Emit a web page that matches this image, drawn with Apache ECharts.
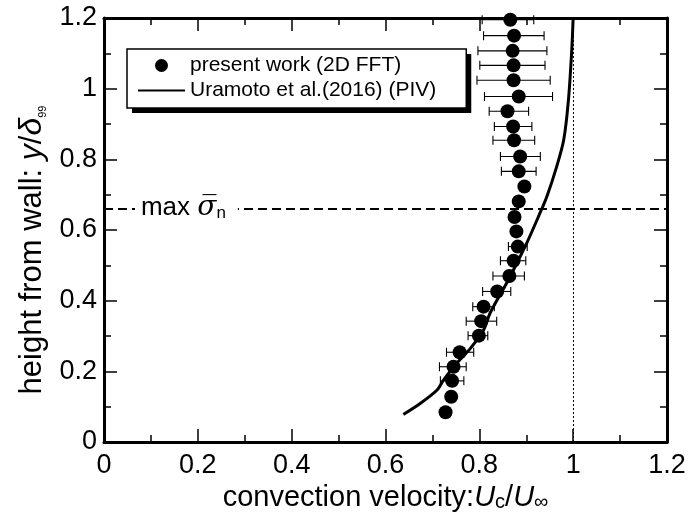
<!DOCTYPE html>
<html>
<head>
<meta charset="utf-8">
<script src="https://cdn.jsdelivr.net/npm/echarts@6/dist/echarts.min.js"></script>
<style>html,body{margin:0;padding:0;background:#fff;}#c{width:692px;height:520px;}</style>
</head>
<body>
<div id="c"></div>
<script>
// ---- data ----
const presentY = [1.195,1.150,1.107,1.066,1.024,0.978,0.936,0.893,0.854,0.808,0.766,0.723,0.681,0.637,0.596,0.553,0.513,0.470,0.426,0.383,0.342,0.301,0.254,0.213,0.173,0.128,0.084];
const presentX = [0.866,0.874,0.871,0.873,0.873,0.884,0.860,0.872,0.874,0.887,0.884,0.896,0.884,0.875,0.879,0.882,0.873,0.864,0.838,0.809,0.804,0.799,0.758,0.745,0.742,0.740,0.728];
const errLow  = [0.806,0.809,0.797,0.801,0.795,0.811,0.821,0.832,0.829,0.845,0.847,null,null,null,null,0.862,0.845,0.829,0.807,0.786,0.772,0.776,0.730,0.715,0.717,null,null];
const errHigh = [0.916,0.938,0.944,0.940,0.951,0.956,0.905,0.912,0.918,0.930,0.921,null,null,null,null,0.902,0.899,0.896,0.867,0.832,0.837,0.818,0.788,0.772,0.767,null,null];
const pivX = [0.638,0.674,0.710,0.724,0.752,0.781,0.809,0.823,0.862,0.901,0.926,0.944,0.965,0.980,0.990,0.997,1.000];
const pivY = [0.078,0.109,0.147,0.176,0.223,0.265,0.317,0.365,0.459,0.563,0.638,0.695,0.780,0.856,0.969,1.110,1.200];
const maxSigmaY = 0.662;
const freeStreamX = 1.0;
const xTicks = {min:0, max:1.2, interval:0.2};
const yTicks = {min:0, max:1.2, interval:0.2};
const labelStartX = 0.066;
const legendNames = ['present work (2D FFT)', 'Uramoto et al.(2016) (PIV)'];

const FONT = 'Liberation Sans, Arial, Helvetica, sans-serif';
const chart = echarts.init(document.getElementById('c'), null, {renderer:'canvas'});

function axisCommon(showLabel, extra){
  return Object.assign({
    type:'value',
    min: xTicks.min, max: xTicks.max, interval: xTicks.interval,
    axisLine:{show:true, onZero:false, lineStyle:{color:'#000', width:3}},
    axisTick:{show:true, inside:true, length:13, lineStyle:{color:'#000', width:1.5}},
    minorTick:{show:true, splitNumber:2, length:7, lineStyle:{color:'#000', width:1.5}},
    splitLine:{show:false},
    axisLabel:{show:showLabel, color:'#000', fontSize:27, fontFamily:FONT}
  }, extra);
}

const scatterData = presentX.map((x,i)=>[x, presentY[i]]);
const errData = [];
presentY.forEach((y,i)=>{ if(errLow[i]!=null) errData.push([y, errLow[i], errHigh[i]]); });
const pivData = pivX.map((x,i)=>[x, pivY[i]]);

const legendBase = {
  orient:'vertical', left:127, top:49,
  itemWidth:47, itemHeight:13, itemGap:4,
  padding:[6,30,7,10],
  textStyle:{color:'#000', fontSize:21, fontFamily:FONT, lineHeight:21},
  selectedMode:false
};

const option = {
  animation:false,
  backgroundColor:'#fff',
  grid:{left:104, right:25, top:18, bottom:78, containLabel:false},
  legend:[
    // shadow layer: white box with solid black offset shadow, invisible content
    Object.assign({}, legendBase, {
      z:3,
      data:[{name:legendNames[0], itemStyle:{opacity:0}},
            {name:legendNames[1], itemStyle:{opacity:0}, lineStyle:{opacity:0}}],
      backgroundColor:'#fff', borderWidth:0,
      shadowColor:'#000', shadowBlur:0, shadowOffsetX:5, shadowOffsetY:5,
      textStyle:{color:'rgba(0,0,0,0)', fontSize:21, fontFamily:FONT, lineHeight:21}
    }),
    // visible layer: bordered box with items
    Object.assign({}, legendBase, {
      z:4,
      data:[{name:legendNames[0]},
            {name:legendNames[1], itemStyle:{opacity:0}}],
      backgroundColor:'rgba(0,0,0,0)', borderColor:'#000', borderWidth:1.5
    })
  ],
  xAxis:[
    axisCommon(true, {position:'bottom',
      axisLabel:{show:true, color:'#000', fontSize:27, fontFamily:FONT, margin:10},
      name:'convection velocity:{i|U}{c|c}/{i|U}{c|∞}', nameLocation:'middle', nameGap:41,
      nameTextStyle:{color:'#000', fontSize:29, fontFamily:FONT,
        rich:{i:{fontStyle:'italic', fontSize:29, fontFamily:FONT, color:'#000'},
              c:{fontSize:20, fontFamily:FONT, color:'#000', verticalAlign:'bottom', padding:[7,0,0,0]}}}}),
    axisCommon(false, {position:'top'})
  ],
  yAxis:[
    axisCommon(true, {min:yTicks.min, max:yTicks.max, interval:yTicks.interval, position:'left',
      axisLabel:{show:true, color:'#000', fontSize:27, fontFamily:FONT, margin:7},
      name:'height from wall: {i|y}/{i|δ}{s|99}', nameLocation:'middle', nameGap:54,
      nameTextStyle:{color:'#000', fontSize:31, fontFamily:FONT, padding:[0,40,0,0],
        rich:{i:{fontStyle:'italic', fontSize:32, fontFamily:FONT, color:'#000'},
              s:{fontSize:11, fontFamily:FONT, color:'#000', verticalAlign:'bottom'}}}}),
    axisCommon(false, {min:yTicks.min, max:yTicks.max, interval:yTicks.interval, position:'right'})
  ],
  series:[
    {
      name:'guides', type:'line', data:[], silent:true, z:1,
      markLine:{silent:true, symbol:'none', animation:false,
        label:{show:false},
        data:[
          {yAxis:maxSigmaY, lineStyle:{type:[9,5], width:2, color:'#000'}},
          {xAxis:freeStreamX, lineStyle:{type:[2,2], width:1, color:'#000'}}
        ]}
    },
    {
      name:'errors', type:'custom', z:3, silent:true,
      data:errData, encode:{x:[1,2], y:0},
      renderItem:function(params, api){
        const y = api.value(0), lo = api.value(1), hi = api.value(2);
        const p1 = api.coord([lo,y]), p2 = api.coord([hi,y]);
        const h = 4.5, st = {stroke:'#000', lineWidth:1.1};
        return {type:'group', children:[
          {type:'line', shape:{x1:p1[0], y1:p1[1], x2:p2[0], y2:p2[1]}, style:st},
          {type:'line', shape:{x1:p1[0], y1:p1[1]-h, x2:p1[0], y2:p1[1]+h}, style:st},
          {type:'line', shape:{x1:p2[0], y1:p2[1]-h, x2:p2[0], y2:p2[1]+h}, style:st}
        ]};
      }
    },
    {
      name:legendNames[1], type:'line', data:pivData, smooth:0.3,
      symbol:'none', z:4, clip:true,
      lineStyle:{color:'#000', width:3}, itemStyle:{color:'#000'}
    },
    {
      name:legendNames[0], type:'scatter', data:scatterData, symbol:'circle',
      symbolSize:14, z:5, itemStyle:{color:'#000', opacity:1}
    },
    {
      name:'label', type:'line', data:[], silent:true, z:6,
      markPoint:{silent:true, symbol:'circle', symbolSize:0, animation:false,
        data:[{coord:[labelStartX, maxSigmaY], value:0}],
        label:{show:true, position:'right', distance:0,
          backgroundColor:'#fff', padding:[2,12,2,6],
          formatter:'{a|max }{s|σ\u0305}{n|n}',
          rich:{
            a:{fontSize:26, fontFamily:FONT, color:'#000'},
            s:{fontSize:28, fontFamily:'DejaVu Serif', fontStyle:'italic', color:'#000'},
            n:{fontSize:17, fontFamily:FONT, color:'#000', verticalAlign:'bottom', padding:[6,0,0,0]}
          }}
      }
    }
  ]
};
chart.setOption(option);
</script>
</body>
</html>
